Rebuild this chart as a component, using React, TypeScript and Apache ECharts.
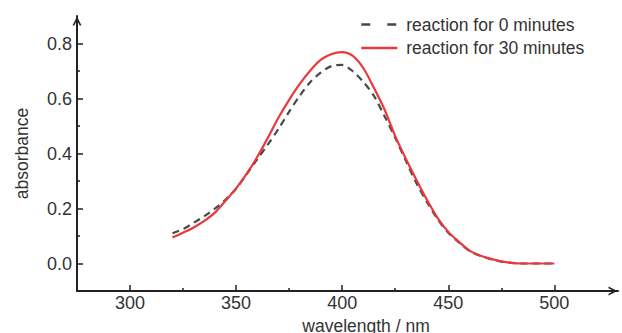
import React, { useEffect, useRef } from "react";
import * as echarts from "echarts";

const wavelengths = [
  320, 325, 330, 335, 340, 345, 350, 355, 360, 365, 370, 375, 380, 385, 390, 395,
  400, 405, 410, 415, 420, 425, 430, 435, 440, 445, 450, 455, 460, 465, 470, 475,
  480, 485, 490, 495, 500,
];
const absorbance0min = [
  0.11, 0.125, 0.148, 0.172, 0.2, 0.232, 0.272, 0.325, 0.38, 0.433, 0.49, 0.552,
  0.61, 0.66, 0.695, 0.718, 0.722, 0.699, 0.66, 0.609, 0.535, 0.457, 0.374, 0.292,
  0.223, 0.161, 0.112, 0.077, 0.046, 0.028, 0.016, 0.007, 0.002, 0, 0, 0, 0,
];
const absorbance30min = [
  0.095, 0.112, 0.131, 0.155, 0.185, 0.228, 0.273, 0.327, 0.388, 0.458, 0.531, 0.595,
  0.653, 0.702, 0.741, 0.762, 0.769, 0.755, 0.71, 0.638, 0.559, 0.463, 0.381, 0.304,
  0.231, 0.165, 0.115, 0.079, 0.047, 0.029, 0.017, 0.008, 0.002, 0, 0, 0, 0,
];
const seriesNames = ["reaction for 0 minutes", "reaction for 30 minutes"];
const xMajorTicks = [300, 350, 400, 450, 500];
const xMinorTicks = [325, 375, 425, 475];
const yMajorTicks = [0, 0.2, 0.4, 0.6, 0.8];
const yMinorTicks = [0.1, 0.3, 0.5, 0.7];
const xRange = [275, 530];
const yRange = [-0.1, 0.9];
const xAxisTitle = "wavelength / nm";
const yAxisTitle = "absorbance";

const FONT = "'Liberation Sans', Arial, sans-serif";
const AXIS_COLOR = "#222";
const TEXT_COLOR = "#333";
const ARROW = "path://M0,10 L5,0 L10,10 L8,10 L5,4 L2,10 Z";

export default function App() {
  const ref = useRef<HTMLDivElement>(null);
  useEffect(() => {
    if (!ref.current) return;
    const chart = echarts.init(ref.current, undefined, { renderer: "svg" });
    const pairs0 = wavelengths.map((w, i) => [w, absorbance0min[i]]);
    const pairs30 = wavelengths.map((w, i) => [w, absorbance30min[i]]);
    const baseAxisLine = {
      show: true,
      lineStyle: { color: AXIS_COLOR, width: 2 },
    };
    chart.setOption({
      animation: false,
      backgroundColor: "#fff",
      textStyle: { fontFamily: FONT },
      grid: {
        left: 77,
        right: 4,
        top: 16,
        bottom: 42,
        containLabel: false,
        outerBoundsMode: "none",
      },
      legend: {
        orient: "vertical",
        left: 355,
        top: 9,
        itemWidth: 36,
        itemHeight: 14,
        itemGap: 2.5,
        itemStyle: { color: "transparent", borderWidth: 0, opacity: 0 },
        textStyle: {
          fontFamily: FONT,
          fontSize: 17.5,
          lineHeight: 21,
          color: TEXT_COLOR,
          padding: [0, 0, 0, 4],
        },
        data: [
          { name: seriesNames[0], lineStyle: { type: [9, 17], width: 2.5 } },
          { name: seriesNames[1], lineStyle: { width: 2.5 } },
        ],
      },
      xAxis: [
        {
          type: "value",
          min: xRange[0],
          max: xRange[1],
          position: "bottom",
          axisLine: {
            ...baseAxisLine,
            onZero: false,
            symbol: ["none", ARROW],
            symbolSize: [9, 10],
            symbolOffset: [0, -5],
          },
          axisTick: {
            show: true,
            inside: true,
            length: 6,
            customValues: xMajorTicks,
            lineStyle: { color: AXIS_COLOR, width: 1.5 },
          },
          axisLabel: {
            customValues: xMajorTicks,
            margin: 3,
            fontFamily: FONT,
            fontSize: 18,
            color: TEXT_COLOR,
          },
          splitLine: { show: false },
          name: xAxisTitle,
          nameLocation: "middle",
          nameGap: 22,
          nameTextStyle: {
            fontFamily: FONT,
            fontSize: 17.5,
            color: TEXT_COLOR,
            padding: [0, 0, 0, 37],
          },
        },
        {
          type: "value",
          min: xRange[0],
          max: xRange[1],
          position: "bottom",
          axisLine: { show: false, onZero: false },
          axisTick: {
            show: true,
            inside: true,
            length: 3,
            customValues: xMinorTicks,
            lineStyle: { color: AXIS_COLOR, width: 1.5 },
          },
          axisLabel: { show: false },
          splitLine: { show: false },
        },
      ],
      yAxis: [
        {
          type: "value",
          min: yRange[0],
          max: yRange[1],
          position: "left",
          axisLine: {
            ...baseAxisLine,
            onZero: false,
            symbol: ["none", ARROW],
            symbolSize: [9, 10],
            symbolOffset: [0, -5],
          },
          axisTick: {
            show: true,
            inside: true,
            length: 6,
            customValues: yMajorTicks,
            lineStyle: { color: AXIS_COLOR, width: 1.5 },
          },
          axisLabel: {
            customValues: yMajorTicks,
            margin: 5,
            fontFamily: FONT,
            fontSize: 18,
            color: TEXT_COLOR,
            formatter: (v: number) => v.toFixed(1),
          },
          splitLine: { show: false },
          name: yAxisTitle,
          nameLocation: "middle",
          nameGap: 46,
          nameTextStyle: {
            fontFamily: FONT,
            fontSize: 17.5,
            color: TEXT_COLOR,
          },
        },
        {
          type: "value",
          min: yRange[0],
          max: yRange[1],
          position: "left",
          axisLine: { show: false, onZero: false },
          axisTick: {
            show: true,
            inside: true,
            length: 3,
            customValues: yMinorTicks,
            lineStyle: { color: AXIS_COLOR, width: 1.5 },
          },
          axisLabel: { show: false },
          splitLine: { show: false },
        },
      ],
      series: [
        {
          name: seriesNames[0],
          type: "line",
          xAxisIndex: 0,
          yAxisIndex: 0,
          data: pairs0,
          smooth: 0.3,
          symbol: "none",
          lineStyle: { color: "#484848", width: 2.2, type: [7, 5] },
          itemStyle: { color: "#484848" },
        },
        {
          name: seriesNames[1],
          type: "line",
          xAxisIndex: 0,
          yAxisIndex: 0,
          data: pairs30,
          smooth: 0.3,
          symbol: "none",
          lineStyle: { color: "#e9393d", width: 2.2 },
          itemStyle: { color: "#e9393d" },
        },
      ],
    });
    return () => chart.dispose();
  }, []);
  return (
    <div
      ref={ref}
      style={{ position: "fixed", left: 0, top: 0, width: 622, height: 333 }}
    />
  );
}
